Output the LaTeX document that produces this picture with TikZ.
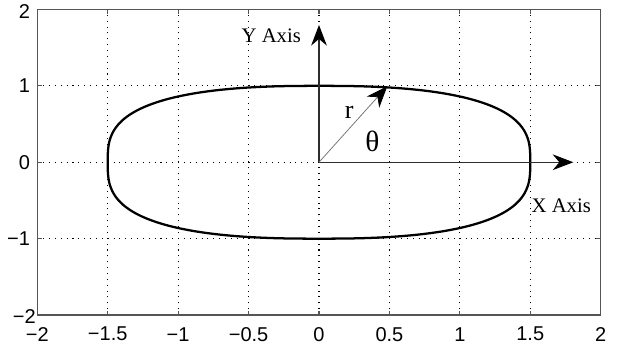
\documentclass[tikz,border=0pt]{standalone}
\usepackage{fontspec}
\setmainfont{Liberation Serif}
\newfontfamily\ticksfont{Liberation Sans}
\usetikzlibrary{arrows.meta}
\definecolor{boxgray}{RGB}{85,85,85}
\definecolor{axisgray}{RGB}{45,45,45}
\definecolor{radgray}{RGB}{120,120,120}
\tikzset{
  gridline/.style={black, line width=0.8pt, dash pattern=on 0.8pt off 3.6pt},
  framebox/.style={boxgray, line width=0.9pt},
  tickmark/.style={boxgray, line width=0.8pt},
  ticklabel/.style={font=\ticksfont\fontsize{15}{15}\selectfont, inner sep=0pt},
  curve/.style={black, line width=1.7pt, line join=round},
  axisarrow/.style={axisgray, line width=0.8pt, -{Stealth[length=15.5pt, width=11.8pt, inset=5pt, black]}},
  radarrow/.style={radgray, line width=0.6pt, -{Stealth[length=16pt, width=12.5pt, inset=5pt, black]}},
  axislabel/.style={font=\fontsize{15.5}{15.5}\selectfont, inner sep=0pt},
  rlabel/.style={font=\fontsize{19.5}{19.5}\selectfont, inner sep=0pt},
  thlabel/.style={font=\fontsize{22}{22}\selectfont, inner sep=0pt},
}
\begin{document}
\begin{tikzpicture}[x=105.6375pt, y=57.3pt,
  declare function={cx(\t)=1.5*exp(0.8*ln(max(cos(\t),0.0001)));
                    sy(\t)=exp(0.6667*ln(max(sin(\t),0.0001)));}]
\useasboundingbox (-2.2648,-2.4182) rectangle (2.1441,2.1237);
% grid
\foreach \g in {-1.5,-1,-0.5,0,0.5,1,1.5} \draw[gridline] (\g,-2) -- (\g,2);
\foreach \g in {-1,0,1} \draw[gridline] (-2,\g) -- (2,\g);
% ticks
\foreach \g in {-1.5,-1,-0.5,0,0.5,1,1.5} {
  \draw[tickmark] (\g,-2) -- ++(0,0.055);
  \draw[tickmark] (\g,2) -- ++(0,-0.055);
}
\foreach \g in {-1,0,1} {
  \draw[tickmark] (-2,\g) -- ++(0.03,0);
  \draw[tickmark] (2,\g) -- ++(-0.03,0);
}
% frame
\draw[framebox] (-2,-2) rectangle (2,2);
% tick labels
\node[ticklabel, anchor=east] (ylA) at (-2.05,1.97) {2};
\node[ticklabel, anchor=east] (ylB) at (-2.05,1) {1};
\node[ticklabel, anchor=east] (ylC) at (-2.05,0) {0};
\node[ticklabel, anchor=east] (ylD) at (-2.05,-1) {−1};
\node[ticklabel, anchor=east] (ylE) at (-2.009,-2.022) {−2};
\foreach \v/\t [count=\i] in {-2/{−2},-1.5/{−1.5},-1/{−1},-0.5/{−0.5},0/0,0.5/0.5,1/1,1.5/1.5,2/2}
  \node[ticklabel] (xl\i) at (\v,-2.25) {\t};
% curve: |x/1.5|^2.5 + |y|^3 = 1
\draw[curve]
  plot[domain=0:90, samples=121] ({cx(\x)},{sy(\x)})
  -- plot[domain=90:0, samples=121] ({-cx(\x)},{sy(\x)})
  -- plot[domain=0:90, samples=121] ({-cx(\x)},{-sy(\x)})
  -- plot[domain=90:0, samples=121] ({cx(\x)},{-sy(\x)})
  -- cycle;
% axes
\coordinate (O) at (0,0);
\coordinate (Xend) at (1.806,0);
\coordinate (Yend) at (0,1.797);
\coordinate (R) at (0.485,0.995);
\draw[axisarrow] (O) -- (Xend);
\draw[axisarrow] (O) -- (Yend);
\draw[radarrow] (O) -- (R);
% labels
\node[axislabel] (ylab) at (-0.339,1.662) {Y Axis};
\node[axislabel] (xlab) at (1.72,-0.57) {X Axis};
\node[rlabel] (rlab) at (0.214,0.651) {r};
\node[thlabel] (thlab) at (0.38,0.276) {θ};
\end{tikzpicture}
\end{document}
